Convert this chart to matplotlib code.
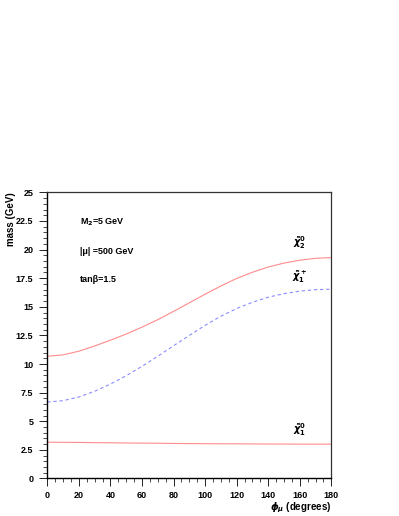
import matplotlib
matplotlib.use("Agg")
import matplotlib.pyplot as plt
from matplotlib.ticker import MultipleLocator

plt.rcParams.update({
    "font.family": "Liberation Sans",
    "font.weight": "bold",
    "font.size": 6.5,
    "mathtext.fontset": "dejavusans",
})

# ---------- data ----------
phi = [0, 10, 20, 30, 40, 50, 60, 70, 80, 90, 100, 110, 120, 130, 140, 150, 160, 170, 180]
chi20 = [10.68, 10.8, 11.12, 11.58, 12.08, 12.62, 13.22, 13.88, 14.6, 15.35, 16.1,
         16.82, 17.48, 18.02, 18.48, 18.82, 19.07, 19.24, 19.3]
chi1p = [6.68, 6.8, 7.12, 7.62, 8.25, 8.98, 9.8, 10.68, 11.6, 12.5, 13.38,
         14.18, 14.85, 15.4, 15.84, 16.15, 16.37, 16.5, 16.54]
chi10 = [3.17, 3.16, 3.15, 3.13, 3.12, 3.1, 3.09, 3.08, 3.06, 3.05, 3.04,
         3.03, 3.03, 3.02, 3.01, 3.01, 3.0, 3.0, 3.0]

fig = plt.figure(figsize=(3.99, 5.16), dpi=100)
ax = fig.add_axes([0.1185, 0.0727, 0.712, 0.5545])

ax.plot(phi, chi20, color="#ff8c8c", lw=0.8)
ax.plot(phi, chi1p, color="#8c8cff", lw=0.8, ls=(0, (3, 2.5)))
ax.plot(phi, chi10, color="#ff8c8c", lw=0.8)

ax.set_xlim(0, 180)
ax.set_ylim(0, 25)
ax.xaxis.set_major_locator(MultipleLocator(20))
ax.xaxis.set_minor_locator(MultipleLocator(5))
ax.yaxis.set_minor_locator(MultipleLocator(0.5))
ax.set_yticks([0, 2.5, 5, 7.5, 10, 12.5, 15, 17.5, 20, 22.5, 25])
ax.set_yticklabels(["0", "2.5", "5", "7.5", "10", "12.5", "15", "17.5", "20", "22.5", "25"])
ax.tick_params(which="major", direction="out", length=6, width=0.6, pad=4)
ax.tick_params(which="minor", direction="out", length=3, width=0.5)
ax.tick_params(axis="x", pad=3)

for s in ["left", "bottom"]:
    ax.spines[s].set_linewidth(1.0)
for s in ["top", "right"]:
    ax.spines[s].set_linewidth(0.9)
    ax.spines[s].set_color("#333333")

ax.set_ylabel("mass (GeV)", fontsize=7, fontweight="bold")
ax.yaxis.set_label_coords(-0.11, 1.0)
ax.yaxis.label.set_ha("right")
ax.set_xlabel(r"$\phi_\mu$ (degrees)", fontsize=7, fontweight="bold")
ax.xaxis.set_label_coords(1.0, -0.075)
ax.xaxis.label.set_ha("right")

ax.text(0.115, 0.895, r"M$_2$=5 GeV", transform=ax.transAxes, va="center")
ax.text(0.115, 0.795, "|μ| =500 GeV", transform=ax.transAxes, va="center")
ax.text(0.115, 0.695, "tanβ=1.5", transform=ax.transAxes, va="center")

ax.text(160, 19.9, r"$\tilde{\chi}^0_2$", fontsize=7, ha="center", va="bottom")
ax.text(160, 16.9, r"$\tilde{\chi}^+_1$", fontsize=7, ha="center", va="bottom")
ax.text(160, 3.5, r"$\tilde{\chi}^0_1$", fontsize=7, ha="center", va="bottom")

fig.savefig("out.png", dpi=100)
